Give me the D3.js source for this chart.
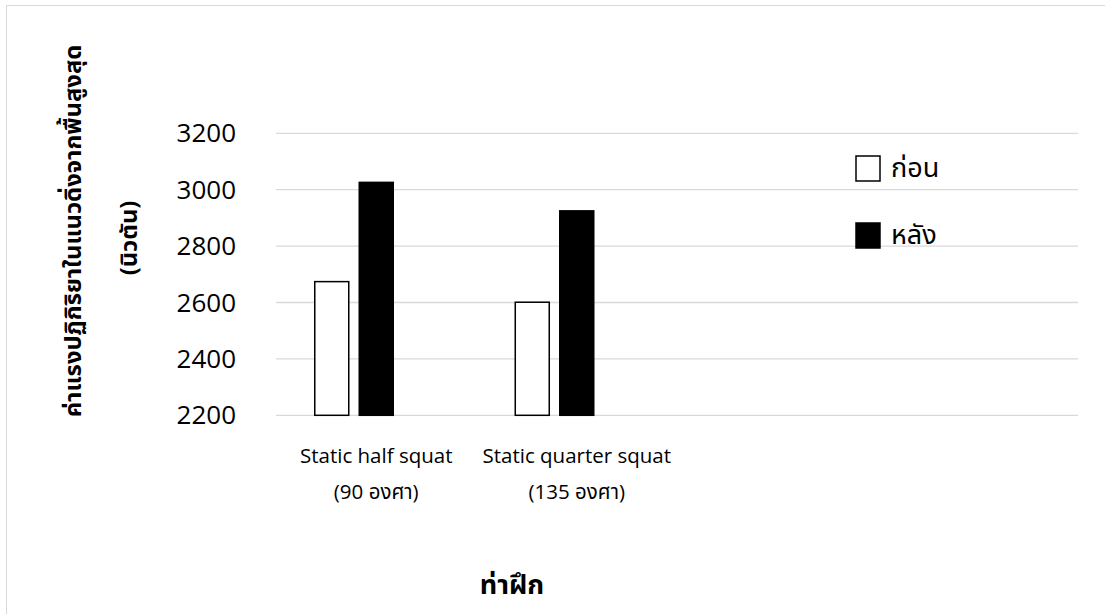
<!DOCTYPE html>
<html>
<head>
<meta charset="utf-8">
<script src="https://cdn.jsdelivr.net/npm/d3@7"></script>
<style>
  html, body { margin: 0; padding: 0; background: #fff; }
  svg { display: block; }
  text { font-family: "Open Sans", "Noto Sans", "Noto Sans Thai", sans-serif; fill: #000; }
</style>
</head>
<body>
<svg id="chart" width="1105" height="614"></svg>
<script>
// Exercise positions (two empty slots follow, as on the original sheet)
const categories = [
  ["Static half squat", "(90 องศา)"],
  ["Static quarter squat", "(135 องศา)"],
  ["", ""],
  ["", ""]
];
// Peak vertical ground reaction force (N)
const seriesNames = ["ก่อน", "หลัง"];
const beforeValues = [2674, 2601, null, null];
const afterValues = [3026, 2925, null, null];
const yTicks = [2200, 2400, 2600, 2800, 3000, 3200];
const yTitle = ["ค่าแรงปฏิกิริยาในแนวดิ่งจากพื้นสูงสุด", "(นิวตัน)"];
const xTitle = "ท่าฝึก";

const series = [
  { name: seriesNames[0], values: beforeValues, fill: "#ffffff", stroke: "#000000" },
  { name: seriesNames[1], values: afterValues, fill: "#000000", stroke: "#000000" }
];

const svg = d3.select("#chart");

// outer chart frame
svg.append("rect")
  .attr("x", 6.5).attr("y", 5.5)
  .attr("width", 1105).attr("height", 620)
  .attr("fill", "none").attr("stroke", "#d9d9d9").attr("stroke-width", 1);

const plot = { left: 276, right: 1078, top: 133.3, bottom: 415.3 };

const x = d3.scaleBand()
  .domain(d3.range(categories.length))
  .range([plot.left, plot.right])
  .padding(0);

// three slots per cluster; the third one holds no series
const xs = d3.scaleBand()
  .domain([0, 1, 2])
  .range([0, x.bandwidth()])
  .paddingInner(0.2135)
  .paddingOuter(0.86);

const y = d3.scaleLinear()
  .domain([2200, 3200])
  .range([plot.bottom, plot.top]);

// gridlines
svg.append("g")
  .selectAll("line")
  .data(yTicks)
  .join("line")
  .attr("x1", plot.left).attr("x2", plot.right)
  .attr("y1", d => y(d)).attr("y2", d => y(d))
  .attr("stroke", "#d9d9d9").attr("stroke-width", 1.3);

// y axis labels
const yAxis = d3.axisLeft(y).tickValues(yTicks).tickSize(0).tickPadding(0).tickFormat(d3.format("d"));
const gy = svg.append("g").attr("transform", `translate(${plot.left - 40},0)`).call(yAxis);
gy.select(".domain").remove();
gy.selectAll("text")
  .attr("font-size", 26)
  .attr("fill", "#333333")
  .attr("dy", "0.33em")
  .style("font-family", "'Open Sans', sans-serif");

// bars
series.forEach((s, si) => {
  svg.append("g")
    .selectAll("rect")
    .data(s.values.map((v, i) => ({ i, v })).filter(d => d.v != null))
    .join("rect")
    .attr("x", d => x(d.i) + xs(si) + 0.5)
    .attr("y", d => y(d.v))
    .attr("width", xs.bandwidth() - 1)
    .attr("height", d => y(2200) - y(d.v))
    .attr("fill", s.fill)
    .attr("stroke", s.stroke)
    .attr("stroke-width", 1.5);
});

// category labels (two lines each)
const catG = svg.append("g");
categories.forEach((c, i) => {
  const cx = x(i) + x.bandwidth() / 2;
  catG.append("text")
    .attr("x", cx).attr("y", 463)
    .attr("text-anchor", "middle")
    .attr("font-size", 20.5)
    .attr("fill", "#262626")
    .text(c[0]);
  catG.append("text")
    .attr("x", cx).attr("y", 499)
    .attr("text-anchor", "middle")
    .attr("font-size", 20.5)
    .attr("fill", "#262626")
    .text(c[1]);
});

// legend
const legend = svg.append("g");
const legendY = [169, 236];
series.forEach((s, si) => {
  legend.append("rect")
    .attr("x", 856).attr("y", legendY[si] - 13)
    .attr("width", 24).attr("height", 25)
    .attr("fill", s.fill).attr("stroke", s.stroke).attr("stroke-width", 1.5);
  legend.append("text")
    .attr("x", 891).attr("y", legendY[si] + 8)
    .attr("font-size", 27)
    .attr("fill", "#1a1a1a")
    .text(s.name);
});

// y axis title
const yt = svg.append("text")
  .attr("transform", "rotate(-90)")
  .attr("text-anchor", "middle")
  .attr("font-weight", "bold")
  .attr("font-size", 23.8);
yt.append("tspan").attr("x", -231).attr("y", 81).text(yTitle[0]);
yt.append("tspan").attr("x", -238).attr("y", 137).text(yTitle[1]);

// x axis title
svg.append("text")
  .attr("x", 512).attr("y", 594)
  .attr("text-anchor", "middle")
  .attr("font-weight", "bold")
  .attr("font-size", 27)
  .text(xTitle);
</script>
</body>
</html>
